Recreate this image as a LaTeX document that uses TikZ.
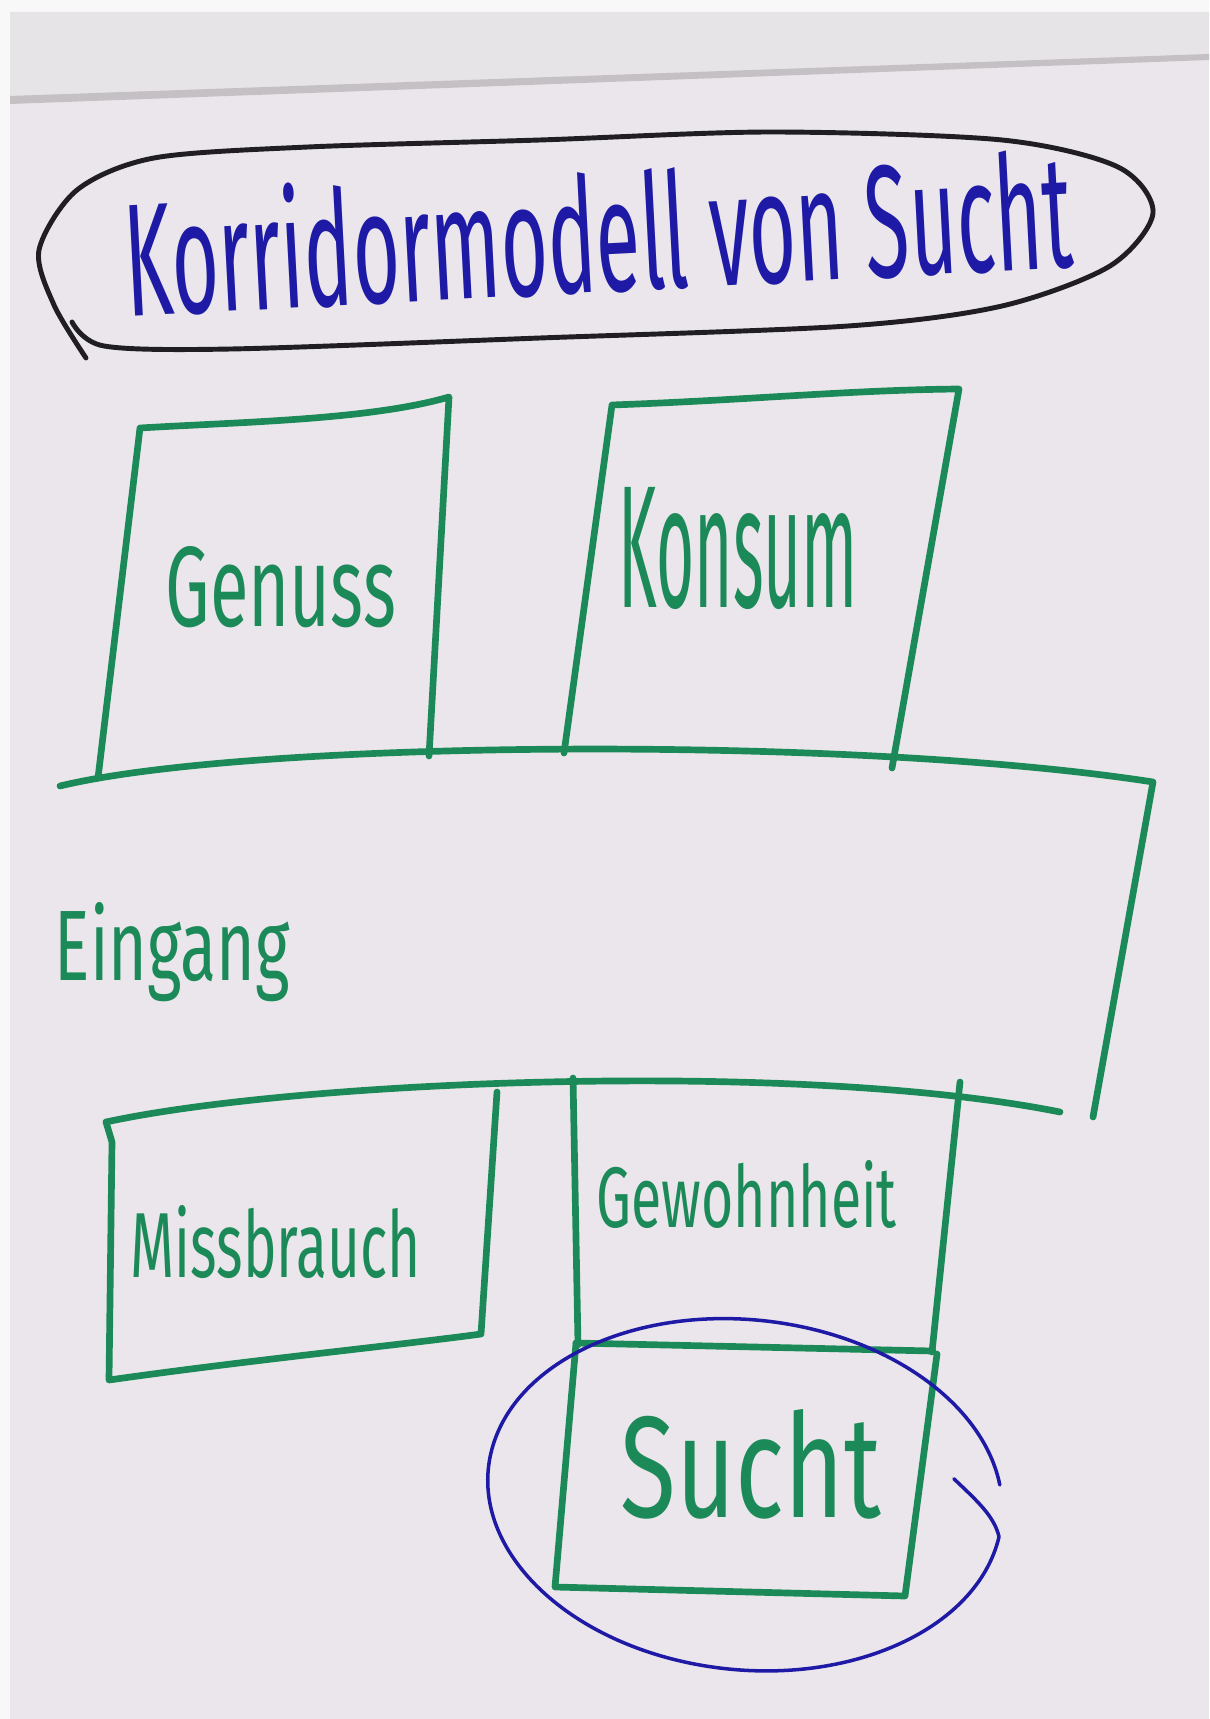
\documentclass[tikz,border=0pt]{standalone}
\usepackage{fontspec}
\setmainfont{Fira Sans}
\definecolor{pengreen}{RGB}{28, 138, 88}
\definecolor{penblue}{RGB}{30, 26, 165}
\definecolor{penblack}{RGB}{32, 30, 34}
\definecolor{paper}{RGB}{234, 230, 236}
\definecolor{roll}{RGB}{230, 228, 231}
\definecolor{rollshadow}{RGB}{196, 192, 196}
\newcommand{\handtext}[3]{\resizebox{#1}{#2}{#3}}
\tikzset{
  marker/.style = {draw = pengreen, line width = 1.9pt},
  penlabel/.style = {anchor = base west, inner sep = 0pt, text = pengreen},
}
\begin{document}
\begin{tikzpicture}[x = 0.01cm, y = -0.01cm, line join = round, line cap = round]
\useasboundingbox (0,0) rectangle (1209,1719);
% paper and roll
\fill[paper] (0,0) rectangle (1209,1719);
\fill[white!70!paper] (0,0) rectangle (1209,12);
\fill[white!70!paper] (0,0) rectangle (10,1719);
\fill[roll] (10,12) -- (1209,12) -- (1209,56) -- (10,98) -- cycle;
\fill[rollshadow] (10,96) -- (1209,54) -- (1209,60) -- (10,104) -- cycle;
% title
\draw[penblack, line width = 1.4pt] plot[smooth] coordinates {(72,322) (104,346) (231,349) (540,338) (848,326) (1002,306) (1110,266) (1153,213) (1118,167) (1002,140) (771,132) (540,140) (308,147) (154,158) (77,190) (39,250) (54,305) (86,358)};
\node[anchor = base, inner sep = 0pt, text = penblue, rotate = 3] (title) at (601,292) {\handtext{9.48cm}{1.25cm}{Korridormodell von Sucht}};
% Genuss and Konsum
\draw[marker] (98,778) -- (140,428) .. controls (240,422) and (370,420) .. (449,397) -- (429,756);
\draw[marker] (564,753) -- (612,405) .. controls (750,400) and (850,390) .. (959,389) -- (892,768);
\node[penlabel] (genuss) at (165,626) {\handtext{2.3cm}{0.8cm}{Genuss}};
\node[penlabel] (konsum) at (618,607) {\handtext{2.39cm}{1.2cm}{Konsum}};
% corridor
\draw[marker] (60,786) .. controls (250,740) and (850,735) .. (1153,782) -- (1093,1117);
\draw[marker] (106,1122) .. controls (300,1080) and (800,1060) .. (1060,1112);
\node[penlabel] (eingang) at (54,980) {\handtext{2.35cm}{0.78cm}{Eingang}};
% Missbrauch
\draw[marker] (106,1122) -- (112,1142) -- (109,1380) .. controls (250,1360) and (400,1345) .. (481,1334) -- (497,1092);
\node[penlabel] (missbrauch) at (130,1277) {\handtext{2.9cm}{0.72cm}{Missbrauch}};
% Gewohnheit and Sucht
\draw[marker] (573,1078) -- (578,1345);
\draw[marker] (960,1082) -- (932,1352);
\draw[marker] (576,1343) -- (933,1351);
\draw[marker] (576,1343) -- (555,1587) -- (905,1596) -- (937,1354);
\node[penlabel] (gewohnheit) at (596,1227) {\handtext{3.0cm}{0.67cm}{Gewohnheit}};
\node[penlabel] (sucht) at (620,1517) {\handtext{2.6cm}{1.08cm}{Sucht}};
\begin{scope}[shift = {(745,1495)}, rotate = -6]
\draw[penblue, line width = 1pt] (206,-38) .. controls (232,-18) and (250,-5) .. (257,15)
  arc[start angle = 5, end angle = 348, x radius = 258, y radius = 175];
\end{scope}
\end{tikzpicture}
\end{document}
